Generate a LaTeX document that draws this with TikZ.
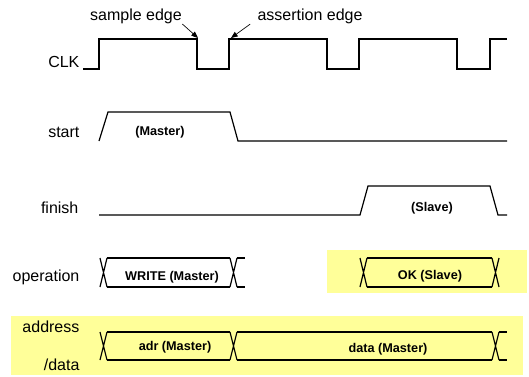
\documentclass[tikz,border=0pt]{standalone}
\usepackage{fontspec}
\setmainfont{Liberation Sans}
\usetikzlibrary{arrows.meta, positioning, calc}
\definecolor{hlyellow}{HTML}{FFFF99}

\begin{document}
\begin{tikzpicture}[x=0.75pt, y=-0.75pt, line width=0.9pt,
    lbl/.style={font=\fontsize{12}{14}\selectfont, anchor=east, inner sep=0pt},
    val/.style={font=\bfseries\fontsize{9.5}{11}\selectfont, inner sep=0pt},
    note/.style={font=\fontsize{12}{14}\selectfont, inner sep=0pt},
    hl/.style={fill=hlyellow, draw=none},
    edgearrow/.style={-{Triangle[length=5pt,width=4pt]}, line width=0.5pt}]
  \useasboundingbox (0,0) rectangle (529,376);

  % highlighted parts
  \fill[hl] (327,250) rectangle (527,293);
  \fill[hl] (11,316) rectangle (523,375);

  % signal names
  \node[lbl] (clk)  at (80,62)  {CLK};
  \node[lbl] (strt) at (80,132) {start};
  \node[lbl] (fin)  at (79,208) {finish};
  \node[lbl] (op)   at (80,277) {operation};
  \node[lbl] (adrl) at (80,327) {address};
  \node[lbl] (datl) at (80,365) {/data};

  % clock
  \draw (83,69) -| (99,39) -| (197,69) -| (229,39) -| (327,69) -| (359,39)
        -| (457,69) -| (490,39) -- (507,39);
  \coordinate (fall) at (198,38);
  \coordinate (rise) at (231,38);

  \node[note] (sample) at (136,16) {sample edge};
  \node[note] (assert) at (310,16) {assertion edge};
  \draw[edgearrow] (sample.south east) -- (fall);
  \draw[edgearrow] ([xshift=-5pt]assert.south west) -- (rise);

  % start / finish
  \draw (99,141) -- (108,112) -- (230,112) -- (238,141) -- (507,141);
  \node[val] (mst) at (160,132) {(Master)};

  \draw (99,215) -- (360,215) -- (368,186) -- (490,186) -- (498,215) -- (507,215);
  \node[val] (slv) at (432,208) {(Slave)};

  % operation bus
  \foreach \x in {100,230,360,492}
    \draw (\x,258) -- (\x+7,287) (\x,287) -- (\x+7,258);
  \draw (107,258) -- (230,258) (107,287) -- (230,287);
  \draw (237,258) -- (245,258) (237,287) -- (245,287);
  \draw (367,258) -- (492,258) (367,287) -- (492,287);
  \node[val] (wr) at (172,277) {WRITE (Master)};
  \node[val] (ok) at (430,276) {OK (Slave)};

  % address/data bus
  \foreach \x in {100,230,492}
    \draw (\x,332) -- (\x+7,360) (\x,360) -- (\x+7,332);
  \draw (107,332) -- (230,332) (107,360) -- (230,360);
  \draw (237,332) -- (492,332) (237,360) -- (492,360);
  \draw (499,332) -- (507,332) (499,360) -- (507,360);
  \node[val] (adr) at (175,347) {adr (Master)};
  \node[val] (dat) at (388,349) {data (Master)};
\end{tikzpicture}
\end{document}
